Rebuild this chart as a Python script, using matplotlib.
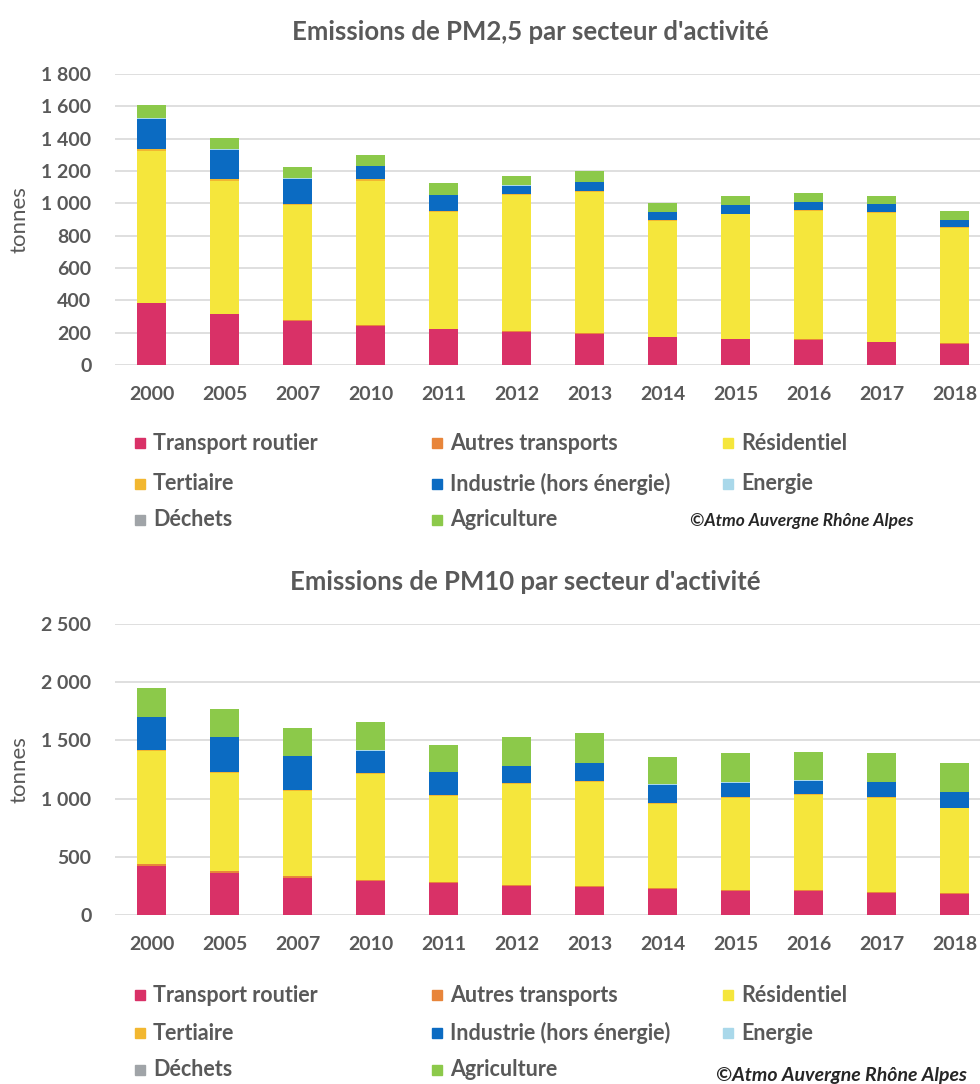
import matplotlib
matplotlib.use("Agg")
import matplotlib.pyplot as plt
from matplotlib.patches import Rectangle
from matplotlib.ticker import FuncFormatter
import numpy as np

plt.rcParams['font.family'] = ['Lato', 'DejaVu Sans']

years = ['2000', '2005', '2007', '2010', '2011', '2012', '2013',
         '2014', '2015', '2016', '2017', '2018']

sectors = ['Transport routier', 'Autres transports', 'Résidentiel', 'Tertiaire',
           'Industrie (hors énergie)', 'Energie', 'Déchets', 'Agriculture']
colors = ['#D93167', '#E8853A', '#F5E63C', '#F2B730',
          '#0B6BC2', '#A9D8EA', '#A0A4A8', '#8CC94A']

# PM2.5 (tonnes)
pm25_transport = [381, 313, 272, 241, 220, 206, 192, 171, 159, 155, 140, 130]
pm25_autres = [5, 4, 4, 4, 3, 3, 3, 3, 3, 3, 3, 3]
pm25_residentiel = [940, 823, 712, 896, 725, 842, 875, 716, 770, 794, 795, 713]
pm25_tertiaire = [7, 8, 7, 7, 6, 6, 7, 6, 5, 6, 6, 5]
pm25_industrie = [190, 183, 157, 82, 95, 53, 54, 49, 50, 49, 49, 43]
pm25_energie = [2, 2, 2, 2, 2, 2, 2, 2, 2, 2, 2, 2]
pm25_dechets = [1, 1, 1, 1, 1, 1, 1, 1, 1, 1, 1, 1]
pm25_agriculture = [81, 71, 67, 69, 71, 57, 67, 57, 56, 57, 50, 57]

# PM10 (tonnes)
pm10_transport = [421, 363, 321, 292, 272, 252, 238, 223, 209, 209, 192, 180]
pm10_autres = [18, 14, 12, 11, 10, 10, 10, 9, 9, 9, 9, 8]
pm10_residentiel = [968, 844, 733, 905, 741, 861, 897, 725, 785, 811, 807, 727]
pm10_tertiaire = [10, 10, 8, 9, 8, 8, 9, 8, 8, 8, 8, 7]
pm10_industrie = [282, 296, 288, 194, 194, 146, 148, 152, 123, 117, 123, 131]
pm10_energie = [4, 5, 7, 6, 6, 6, 6, 6, 6, 6, 6, 6]
pm10_dechets = [1, 1, 1, 1, 1, 1, 1, 1, 1, 1, 1, 1]
pm10_agriculture = [249, 239, 234, 237, 228, 248, 252, 236, 248, 242, 243, 243]

pm25 = [pm25_transport, pm25_autres, pm25_residentiel, pm25_tertiaire,
        pm25_industrie, pm25_energie, pm25_dechets, pm25_agriculture]
pm10 = [pm10_transport, pm10_autres, pm10_residentiel, pm10_tertiaire,
        pm10_industrie, pm10_energie, pm10_dechets, pm10_agriculture]

TXT = '#595959'
W, H = 980, 1084


def fx(px):
    return px / W


def fy(py):
    return 1 - py / H


def thousands(v, pos):
    return '{:,.0f}'.format(v).replace(',', ' ')


def draw_chart(top_px, data, ymax, ystep, title, title_x, legend_rows, copy_xy, copy_size):
    ax = fig.add_axes([fx(115), fy(top_px + 291), fx(876), 291 / H])
    x = np.arange(len(years))
    bottom = np.zeros(len(years))
    for vals, c in zip(data, colors):
        ax.bar(x, vals, bottom=bottom, width=0.39, color=c, linewidth=0, zorder=3)
        bottom += np.array(vals)
    ax.set_xlim(-0.5, len(years) - 0.5)
    ax.set_ylim(0, ymax)
    ax.set_yticks(np.arange(0, ymax + 1, ystep))
    ax.yaxis.set_major_formatter(FuncFormatter(thousands))
    ax.set_xticks(x)
    ax.set_xticklabels(years)
    ax.grid(axis='y', color='#D9D9D9', linewidth=1.2, zorder=0)
    for s in ax.spines.values():
        s.set_visible(False)
    ax.tick_params(axis='both', length=0, labelsize=14, labelcolor=TXT)
    ax.tick_params(axis='y', pad=17)
    ax.tick_params(axis='x', pad=15)
    for lab in ax.get_xticklabels() + ax.get_yticklabels():
        lab.set_fontweight('bold')
    ax.set_ylabel('tonnes', fontsize=16, color=TXT)
    ax.yaxis.set_label_coords(-0.098, 0.5)

    fig.text(fx(title_x), fy(top_px - 42), title, ha='center', va='center',
             fontsize=18.5, fontweight='bold', color=TXT)

    # legend, laid out in rows like the original
    order = [[0, 1, 2], [3, 4, 5], [6, 7]]
    col_x = [140, 437, 728]
    for row, ry in zip(order, legend_rows):
        for j, k in enumerate(row):
            fig.add_artist(Rectangle((fx(col_x[j] - 5), fy(ry + 5)), fx(10), 10 / H,
                                     transform=fig.transFigure, color=colors[k]))
            fig.text(fx(col_x[j] + 13), fy(ry), sectors[k], ha='left', va='center',
                     fontsize=15.5, fontweight='bold', color=TXT)
    fig.text(fx(copy_xy[0]), fy(copy_xy[1]), '©Atmo Auvergne Rhône Alpes', ha='left',
             va='center', fontsize=copy_size, fontweight='bold', style='italic', color='#262626')
    return ax


fig = plt.figure(figsize=(W / 100, H / 100), dpi=100)
fig.patch.set_facecolor('white')

draw_chart(74, pm25, 1800, 200, "Emissions de PM2,5 par secteur d'activité", 530,
           [443, 484, 520], (690, 521), 12.5)
draw_chart(624, pm10, 2500, 500, "Emissions de PM10 par secteur d'activité", 525,
           [995, 1033, 1070], (716, 1075), 14)

fig.savefig('out.png', dpi=100, facecolor='white')
